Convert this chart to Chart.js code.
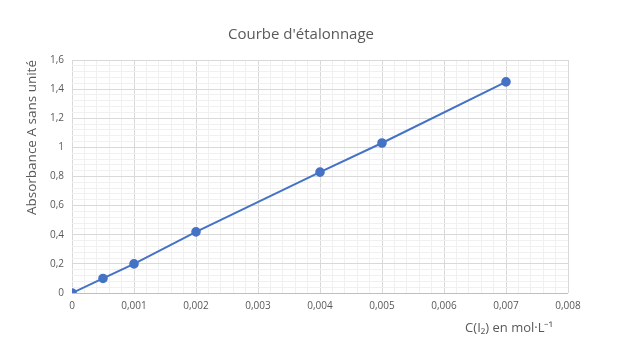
<!DOCTYPE html>
<html><head><meta charset="utf-8">
<script src="https://cdn.jsdelivr.net/npm/chart.js@4"></script>
<style>html,body{margin:0;padding:0;background:#fff}#wrap{width:639px;height:355px}</style>
</head><body><div id="wrap"><canvas id="c" width="639" height="355"></canvas></div>
<script>
const concentrations = [0, 0.0005, 0.001, 0.002, 0.004, 0.005, 0.007];
const absorbances = [0, 0.10, 0.20, 0.42, 0.83, 1.03, 1.45];
const chartTitle = "Courbe d'étalonnage";
const xTitle = "C(I\u2082) en mol\u00B7L\u207B\u00B9";
const yTitle = "Absorbance A sans unité";

const FONT = "'Open Sans', 'Liberation Sans', sans-serif";
const TXT = '#595959';
const isMajor = (v, step) => Math.abs(v / step - Math.round(v / step)) < 1e-6;
const fmt = (v, d) => String(parseFloat(v.toFixed(d))).replace('.', ',');

const titlePlugin = {
  id: 'customTitle',
  afterDraw(chart) {
    const ctx = chart.ctx;
    ctx.save();
    ctx.fillStyle = TXT;
    ctx.textBaseline = 'middle';
    ctx.font = "15px " + FONT;
    ctx.textAlign = 'center';
    ctx.fillText(chartTitle, 301, 35);
    ctx.font = "13px " + FONT;
    ctx.textAlign = 'right';
    ctx.fillText(xTitle, 553, 328);
    ctx.restore();
  }
};

new Chart(document.getElementById('c'), {
  type: 'scatter',
  data: {
    datasets: [{
      data: concentrations.map((x, i) => ({ x: x, y: absorbances[i] })),
      showLine: true,
      borderColor: '#4472c4',
      backgroundColor: '#4472c4',
      borderWidth: 2,
      pointRadius: 3.8,
      pointHoverRadius: 3.8
    }]
  },
  options: {
    responsive: false,
    animation: false,
    layout: { padding: { left: 20, right: 71, top: 60, bottom: 12 } },
    plugins: { legend: { display: false }, tooltip: { enabled: false } },
    scales: {
      x: {
        type: 'linear', min: 0, max: 0.008,
        afterFit: s => { s.height = 50; },
        ticks: {
          stepSize: 0.0002, autoSkip: false, maxRotation: 0,
          color: TXT, font: { family: FONT, size: 10 }, padding: 7,
          callback: v => isMajor(v, 0.001) ? fmt(v, 4) : ''
        },
        grid: {
          drawTicks: false,
          color: c => isMajor(c.tick.value, 0.001) ? '#d9d9d9' : '#f0f0f0',
          lineWidth: 1
        },
        border: { display: false }
      },
      y: {
        type: 'linear', min: 0, max: 1.6,
        afterFit: s => { s.width = 52; },
        ticks: {
          stepSize: 0.04, autoSkip: false,
          color: TXT, font: { family: FONT, size: 10 }, padding: 8,
          callback: v => isMajor(v, 0.2) ? fmt(v, 2) : ''
        },
        grid: {
          drawTicks: false,
          color: c => c.tick.value === 0 ? '#bfbfbf' : (isMajor(c.tick.value, 0.2) ? '#d9d9d9' : '#f0f0f0'),
          lineWidth: 1
        },
        border: { display: false },
        title: {
          display: true, text: yTitle, align: 'end',
          color: TXT, font: { family: FONT, size: 13.5 }, padding: { bottom: 3 }
        }
      }
    }
  },
  plugins: [titlePlugin]
});
</script>
</body></html>
